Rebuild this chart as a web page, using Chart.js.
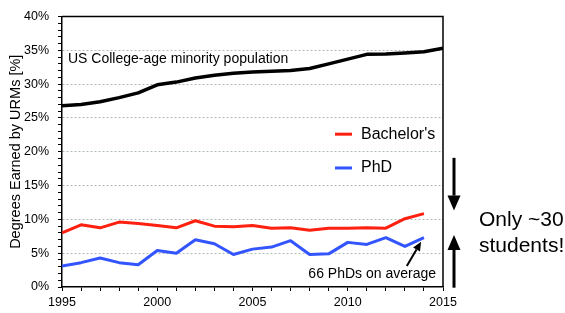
<!DOCTYPE html>
<html>
<head>
<meta charset="utf-8">
<script src="https://cdn.jsdelivr.net/npm/chart.js@4"></script>
<style>
  html, body { margin: 0; padding: 0; background: #fff; }
  #wrap { width: 565px; height: 313px; }
</style>
</head>
<body>
<div id="wrap"><canvas id="chart"></canvas></div>
<script>
/* ── Data ───────────────────────────────────────────────── */

const years = [1995,1996,1997,1998,1999,2000,2001,2002,2003,2004,2005,
               2006,2007,2008,2009,2010,2011,2012,2013,2014,2015];

const minorityPop = [26.8,27.0,27.4,28.0,28.7,29.9,30.3,30.9,31.3,31.6,31.8,
                     31.9,32.0,32.3,33.0,33.7,34.4,34.45,34.6,34.8,35.3];
const bachelors   = [8.0,9.2,8.75,9.6,9.4,9.1,8.75,9.8,9.0,8.9,9.1,
                     8.7,8.75,8.4,8.7,8.7,8.75,8.7,10.1,10.85];
const phd         = [3.1,3.6,4.3,3.6,3.3,5.4,5.0,7.0,6.4,4.8,5.6,
                     5.9,6.85,4.8,4.9,6.6,6.3,7.3,6.0,7.3];

const xTicks = [1995, 2000, 2005, 2010, 2015];
const yTicks = [0, 5, 10, 15, 20, 25, 30, 35, 40];

const FONT = 'Liberation Sans, Arial, sans-serif';
const RED  = '#ff2010';
const BLUE = '#3355ff';

const toXY = (vals) => vals.map((v, i) => ({ x: years[i], y: v }));

/* ── Annotation plugin ─────────────────────────────────── */

function arrow(ctx, x1, y1, x2, y2, width, headLen, headW) {
  const a = Math.atan2(y2 - y1, x2 - x1);
  const bx = x2 - headLen * Math.cos(a), by = y2 - headLen * Math.sin(a);
  ctx.lineWidth = width;
  ctx.beginPath(); ctx.moveTo(x1, y1); ctx.lineTo(bx, by); ctx.stroke();
  ctx.beginPath();
  ctx.moveTo(x2, y2);
  ctx.lineTo(bx + headW / 2 * Math.sin(a), by - headW / 2 * Math.cos(a));
  ctx.lineTo(bx - headW / 2 * Math.sin(a), by + headW / 2 * Math.cos(a));
  ctx.closePath(); ctx.fill();
}

const annotations = {
  id: 'annotations',
  afterDraw(chart) {
    const { ctx, chartArea: ca, scales: { x, y } } = chart;
    ctx.save();

    // frame top + right
    ctx.strokeStyle = '#000';
    ctx.lineWidth = 1.5;
    ctx.beginPath();
    ctx.moveTo(ca.left, ca.top); ctx.lineTo(ca.right, ca.top); ctx.lineTo(ca.right, ca.bottom);
    ctx.stroke();

    ctx.fillStyle = '#000';
    ctx.textBaseline = 'middle';
    ctx.textAlign = 'left';
    ctx.font = '14px ' + FONT;
    ctx.fillText('US College-age minority population', ca.left + 6, y.getPixelForValue(33.7));

    // legend
    const lg = [['Bachelor\'s', RED, 22.6], ['PhD', BLUE, 17.6]];
    ctx.font = '16px ' + FONT;
    lg.forEach(([label, col, v]) => {
      const py = y.getPixelForValue(v);
      ctx.strokeStyle = col; ctx.lineWidth = 3;
      ctx.beginPath(); ctx.moveTo(335, py); ctx.lineTo(352, py); ctx.stroke();
      ctx.fillStyle = '#000';
      ctx.fillText(label, 361, py);
    });

    // 66 PhDs note
    ctx.font = '14px ' + FONT;
    ctx.textAlign = 'right';
    ctx.fillText('66 PhDs on average', ca.right - 7, y.getPixelForValue(1.85));
    ctx.strokeStyle = '#000'; ctx.fillStyle = '#000';
    arrow(ctx, x.getPixelForValue(2013.1), y.getPixelForValue(3.1),
               x.getPixelForValue(2013.85), y.getPixelForValue(6.7), 2, 9, 8);

    // gap arrows
    const ax = ca.right + 11;
    arrow(ctx, ax, y.getPixelForValue(19.1), ax, y.getPixelForValue(11.3), 3, 15, 13);
    arrow(ctx, ax, y.getPixelForValue(-0.1), ax, y.getPixelForValue(7.7), 3, 15, 13);

    ctx.textAlign = 'left';
    ctx.font = '21px ' + FONT;
    ctx.fillText('Only ~30', ca.right + 36, 220);
    ctx.fillText('students!', ca.right + 36, 246);

    ctx.restore();
  }
};

/* ── Chart ─────────────────────────────────────────────── */

new Chart(document.getElementById('chart'), {
  type: 'line',
  data: {
    datasets: [
      { label: 'US College-age minority population', data: toXY(minorityPop),
        borderColor: '#000', borderWidth: 3.5 },
      { label: 'Bachelor\'s', data: toXY(bachelors), borderColor: RED, borderWidth: 3 },
      { label: 'PhD', data: toXY(phd), borderColor: BLUE, borderWidth: 3 }
    ]
  },
  options: {
    responsive: true,
    maintainAspectRatio: false,
    animation: false,
    layout: { padding: { top: 7, right: 122, left: 0, bottom: 0 } },
    elements: { point: { radius: 0 }, line: { tension: 0, borderJoinStyle: 'round' } },
    plugins: { legend: { display: false }, tooltip: { enabled: false } },
    scales: {
      x: {
        type: 'linear', min: 1995, max: 2015,
        afterFit: s => { s.height = 26; },
        afterBuildTicks: s => { s.ticks = years.map(v => ({ value: v })); },
        ticks: {
          autoSkip: false, maxRotation: 0, padding: 4,
          color: '#000', font: { family: FONT, size: 12.5 },
          callback: v => xTicks.includes(v) ? String(v) : ''
        },
        grid: { drawOnChartArea: false, tickLength: 4, tickColor: '#000', tickWidth: 1 },
        border: { color: '#000', width: 1.5 }
      },
      y: {
        min: 0, max: 40,
        afterFit: s => { s.width = 62; },
        afterBuildTicks: s => {
          const t = [];
          for (let v = 0; v <= 40; v++) t.push({ value: v });
          s.ticks = t;
        },
        ticks: {
          autoSkip: false, padding: 9,
          color: '#000', font: { family: FONT, size: 12.5 },
          callback: v => yTicks.includes(v) ? v + '%' : ''
        },
        grid: {
          color: c => (c.tick && c.tick.value % 5 === 0 && c.tick.value > 0 && c.tick.value < 40)
            ? '#aebbbb' : 'rgba(0,0,0,0)',
          lineWidth: 1,
          tickLength: 4, tickColor: '#000', tickWidth: 1
        },
        border: { color: '#000', width: 1.5, dash: [2, 2] },
        title: {
          display: true, text: 'Degrees Earned by URMs [%]', color: '#000',
          font: { family: FONT, size: 14.5 }, padding: { top: 7, bottom: 0 }
        }
      }
    }
  },
  plugins: [annotations]
});
</script>
</body>
</html>
